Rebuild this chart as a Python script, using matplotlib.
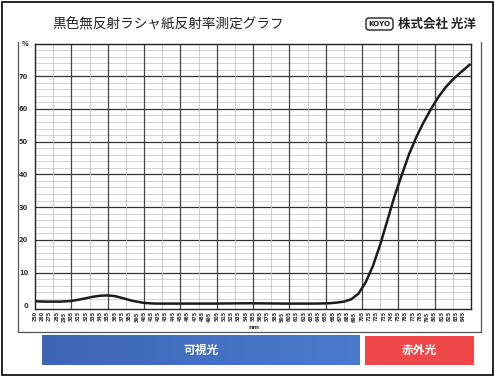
import numpy as np
import matplotlib.pyplot as plt
from matplotlib.patches import Rectangle, FancyBboxPatch

# ==========================================
# DATA
# ==========================================
WAVELENGTH = [255, 270, 290, 305, 320, 335, 345, 355, 365, 375, 390, 405, 420,
              450, 500, 550, 600, 640, 660, 670, 680, 690, 700, 710, 720,
              730, 740, 750, 760, 770, 780, 790, 800, 810, 820, 830, 840, 853]
REFLECTANCE = [1.2, 1.1, 1.1, 1.3, 1.9, 2.6, 2.9, 3.0, 2.8, 2.2, 1.3, 0.7, 0.5,
               0.5, 0.5, 0.6, 0.5, 0.5, 0.6, 0.8, 1.1, 1.8, 3.5, 7.0, 12.0,
               18.5, 26.0, 33.5, 40.0, 46.3, 51.5, 56.0, 60.0, 63.6, 66.6, 69.0, 71.0, 73.5]

TICK_LABELS = ['250', '260'] + [str(v) for v in range(275, 846, 10)]
Y_LABELS = ['0', '10', '20', '30', '40', '50', '60', '70', '%']

TITLE = '黒色無反射ラシャ紙反射率測定グラフ'
COMPANY = '株式会社 光洋'
BAND_VISIBLE = '可視光'
BAND_IR = '赤外光'

JP = ['Noto Sans CJK JP', 'DejaVu Sans']

W, H = 495, 377
fig = plt.figure(figsize=(W / 100, H / 100), dpi=100)
fig.patch.set_facecolor('white')

# pixel-space overlay for the page decorations
deco = fig.add_axes([0, 0, 1, 1], zorder=0)
deco.set_xlim(0, W)
deco.set_ylim(H, 0)
deco.axis('off')

# outer page border
deco.add_patch(Rectangle((1.5, 1.5), W - 3.5, H - 4, fill=False, ec='black', lw=1.2))
# open-top frame round the chart
deco.plot([18, 18, 481, 481], [42, 332, 332, 42], color='#555555', lw=0.9)

deco.text(52, 24, TITLE, family=JP, fontsize=9.8, color='#222222', va='center', ha='left')
deco.text(398, 24, COMPANY, family=JP, fontsize=9, fontweight='bold', color='#222222',
          va='center', ha='left')
deco.add_patch(FancyBboxPatch((366, 18), 27, 12, boxstyle='round,pad=0,rounding_size=3',
                              fc='white', ec='#222222', lw=1.0))
deco.text(379.5, 24.3, 'KOYO', fontsize=5.2, fontweight='bold', color='#222222',
          ha='center', va='center')

# band bars under the chart
grad = np.linspace(0, 1, 256).reshape(1, -1)
blue = np.zeros((1, 256, 3))
blue[..., 0] = np.interp(grad, [0, 1], [0.23, 0.30])
blue[..., 1] = np.interp(grad, [0, 1], [0.40, 0.48])
blue[..., 2] = np.interp(grad, [0, 1], [0.70, 0.80])
deco.imshow(blue, extent=(42, 360, 365, 335), aspect='auto', zorder=1)
deco.add_patch(Rectangle((365, 336), 109, 29, fc='#f04848', ec='none', zorder=1))
deco.text(201, 350.5, BAND_VISIBLE, family=JP, fontsize=8.5, fontweight='bold',
          color='white', ha='center', va='center', zorder=2)
deco.text(419, 350.5, BAND_IR, family=JP, fontsize=8.5, fontweight='bold',
          color='white', ha='center', va='center', zorder=2)
deco.text(254, 327.5, 'nm', fontsize=4.6, fontweight='bold', color='#333333',
          ha='center', va='center')
deco.set_xlim(0, W)
deco.set_ylim(H, 0)

# ==========================================
# CHART
# ==========================================
ax = fig.add_axes([35 / W, 1 - 308.5 / H, 436 / W, (308.5 - 43.5) / H], zorder=1)
ax.set_xlim(255, 855)
ax.set_ylim(-1, 80)

# grid: light every 2 % / 25 nm, dark every 10 % / 50 nm
for y in np.arange(2, 80, 2):
    major = y % 10 == 0
    ax.axhline(y, color='#333333' if major else '#c4c4c4', lw=0.9 if major else 0.5, zorder=1)
for x in np.arange(280, 855, 25):
    major = (x - 255) % 50 == 0
    ax.axvline(x, color='#444444' if major else '#c4c4c4', lw=0.9 if major else 0.6, zorder=1)

ax.plot(WAVELENGTH, REFLECTANCE, color='#1c1c1c', lw=1.8, zorder=3)

ax.set_xticks(np.arange(255, 846, 10))
ax.set_xticklabels(TICK_LABELS, rotation=90, fontsize=3.5, fontweight='bold', color='#333333')
ax.set_yticks(np.arange(0, 81, 10))
ax.set_yticklabels(Y_LABELS, fontsize=4.8, fontweight='bold', color='#333333')
ax.tick_params(axis='both', length=0, pad=5)
ax.tick_params(axis='x', pad=2)
for s in ax.spines.values():
    s.set_color('#222222')
    s.set_linewidth(1.0)

fig.savefig('out.png', dpi=100)
